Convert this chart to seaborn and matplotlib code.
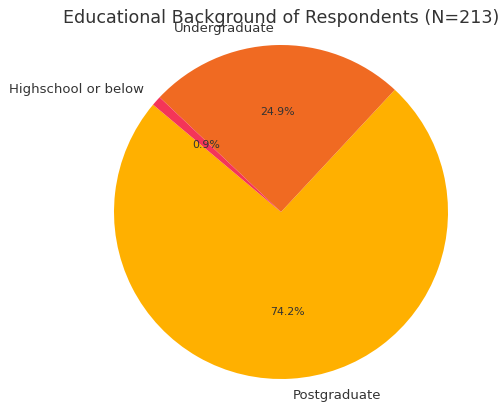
import matplotlib
matplotlib.use("Agg")
import matplotlib.pyplot as plt
import seaborn as sns

# Respondent counts by highest education level (N = 213)
categories = ["Postgraduate", "Undergraduate", "Highschool or below"]
counts = [158, 53, 2]
title = "Educational Background of Respondents (N=213)"

sns.set_style("white")
plt.rcParams["font.family"] = ["DejaVu Sans"]
colors = sns.color_palette(["#FFB000", "#F06A22", "#F43558"])
text_color = "#333333"

W, H = 501, 407
fig = plt.figure(figsize=(W / 100, H / 100), dpi=100)

# Square axes: the pie spans [-1.25, 1.25] in both directions
cx, cy, r = 281, 212, 167
side = 2.5 * r
ax = fig.add_axes([(cx - side / 2) / W, (H - cy - side / 2) / H, side / W, side / H])

wedges, texts, autotexts = ax.pie(
    counts,
    labels=categories,
    colors=colors,
    autopct="%1.1f%%",
    startangle=140,
    wedgeprops={"linewidth": 0, "edgecolor": "none"},
    textprops={"color": text_color, "fontsize": 9.5},
)
for t in autotexts:
    t.set_fontsize(7.9)
ax.set_aspect("equal")

fig.text(cx / W, 1 - 18 / H, title, ha="center", va="center",
         fontsize=12.6, color=text_color)

fig.savefig("out.png", dpi=100)
